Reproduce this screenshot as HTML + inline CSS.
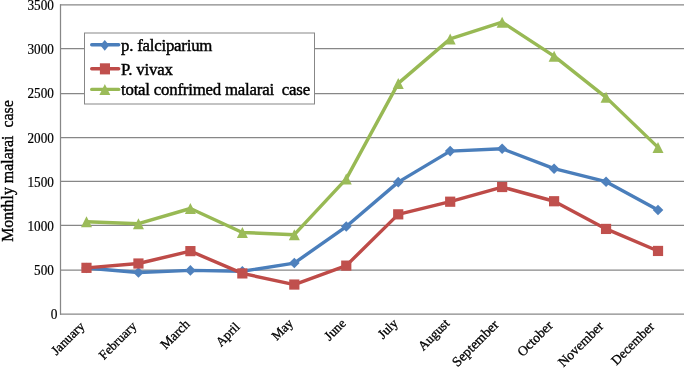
<!DOCTYPE html>
<html lang="en"><head><meta charset="utf-8"><title>Monthly malaria cases</title>
<style>html,body{margin:0;padding:0;background:#fff;}svg{display:block;}svg{will-change:transform;}text{font-family:"Liberation Serif","Times New Roman",serif;fill:#000;stroke:#000;stroke-width:0.25px;}.yl text{stroke-width:0.2px;}.ttl{stroke-width:0.4px;}.lg{stroke-width:0.45px;}.xl text{stroke-width:0.3px;}</style>
</head><body>
<svg width="685" height="368" viewBox="0 0 685 368">
<rect width="685" height="368" fill="#fff"/>
<g stroke="#878787" stroke-width="1.25" fill="none">
<line x1="60.0" y1="314.10" x2="684.0" y2="314.10"/>
<line x1="60.0" y1="270.20" x2="684.0" y2="270.20"/>
<line x1="60.0" y1="225.40" x2="684.0" y2="225.40"/>
<line x1="60.0" y1="181.40" x2="684.0" y2="181.40"/>
<line x1="60.0" y1="137.50" x2="684.0" y2="137.50"/>
<line x1="60.0" y1="93.60" x2="684.0" y2="93.60"/>
<line x1="60.0" y1="48.60" x2="684.0" y2="48.60"/>
<line x1="60.0" y1="4.75" x2="684.0" y2="4.75"/>
<line x1="60.5" y1="4.15" x2="60.5" y2="314.70"/>
</g>
<g class="yl" font-size="14.3" text-anchor="end">
<text x="57.5" y="319.00" textLength="6.7" lengthAdjust="spacingAndGlyphs">0</text>
<text x="53.9" y="275.29" textLength="19.80" lengthAdjust="spacingAndGlyphs">500</text>
<text x="53.9" y="231.07" textLength="26.40" lengthAdjust="spacingAndGlyphs">1000</text>
<text x="53.9" y="186.86" textLength="26.40" lengthAdjust="spacingAndGlyphs">1500</text>
<text x="53.9" y="142.64" textLength="26.40" lengthAdjust="spacingAndGlyphs">2000</text>
<text x="53.9" y="98.43" textLength="26.40" lengthAdjust="spacingAndGlyphs">2500</text>
<text x="53.9" y="54.21" textLength="26.40" lengthAdjust="spacingAndGlyphs">3000</text>
<text x="53.9" y="10.00" textLength="26.40" lengthAdjust="spacingAndGlyphs">3500</text>
</g>
<text class="ttl" font-size="17" textLength="141.5" lengthAdjust="spacingAndGlyphs" transform="translate(13.3,241.8) rotate(-90)" xml:space="preserve">Monthly malarai  case</text>
<g class="xl" font-size="13.1" text-anchor="end">
<text font-size="13.1" transform="translate(85.28,327.00) rotate(-45)">January</text>
<text font-size="13.0" transform="translate(137.24,327.00) rotate(-45)">February</text>
<text font-size="13.5" transform="translate(190.60,324.90) rotate(-45)">March</text>
<text font-size="13.1" transform="translate(240.45,327.60) rotate(-45)">April</text>
<text font-size="13.1" transform="translate(293.81,324.00) rotate(-45)">May</text>
<text font-size="13.1" transform="translate(346.57,324.20) rotate(-45)">June</text>
<text font-size="13.1" transform="translate(398.53,324.00) rotate(-45)">July</text>
<text font-size="13.2" transform="translate(450.29,324.20) rotate(-45)">August</text>
<text font-size="13.9" transform="translate(499.45,325.50) rotate(-45)">September</text>
<text font-size="13.6" transform="translate(553.60,326.30) rotate(-45)">October</text>
<text font-size="13.6" transform="translate(604.16,327.00) rotate(-45)">November</text>
<text font-size="13.25" transform="translate(655.02,327.30) rotate(-45)">December</text>
</g>
<polyline points="86.48,268.02 138.44,272.44 190.40,270.40 242.35,271.29 294.31,263.07 346.27,226.54 398.23,182.15 450.19,151.11 502.15,148.73 554.10,168.71 606.06,181.71 658.02,210.01" fill="none" stroke="#4a7ebb" stroke-width="3.4" stroke-linejoin="round" stroke-linecap="round"/>
<polygon points="86.48,262.72 91.78,268.02 86.48,273.32 81.18,268.02" fill="#4f81bd"/>
<polygon points="138.44,267.14 143.74,272.44 138.44,277.74 133.14,272.44" fill="#4f81bd"/>
<polygon points="190.40,265.10 195.70,270.40 190.40,275.70 185.10,270.40" fill="#4f81bd"/>
<polygon points="242.35,265.99 247.65,271.29 242.35,276.59 237.05,271.29" fill="#4f81bd"/>
<polygon points="294.31,257.77 299.61,263.07 294.31,268.37 289.01,263.07" fill="#4f81bd"/>
<polygon points="346.27,221.24 351.57,226.54 346.27,231.84 340.97,226.54" fill="#4f81bd"/>
<polygon points="398.23,176.85 403.53,182.15 398.23,187.45 392.93,182.15" fill="#4f81bd"/>
<polygon points="450.19,145.81 455.49,151.11 450.19,156.41 444.89,151.11" fill="#4f81bd"/>
<polygon points="502.15,143.43 507.45,148.73 502.15,154.03 496.85,148.73" fill="#4f81bd"/>
<polygon points="554.10,163.41 559.40,168.71 554.10,174.01 548.80,168.71" fill="#4f81bd"/>
<polygon points="606.06,176.41 611.36,181.71 606.06,187.01 600.76,181.71" fill="#4f81bd"/>
<polygon points="658.02,204.71 663.32,210.01 658.02,215.31 652.72,210.01" fill="#4f81bd"/>
<polyline points="86.48,267.84 138.44,263.51 190.40,251.13 242.35,273.41 294.31,284.55 346.27,265.63 398.23,214.34 450.19,201.70 502.15,187.02 554.10,201.25 606.06,228.93 658.02,250.95" fill="none" stroke="#be4b48" stroke-width="3.4" stroke-linejoin="round" stroke-linecap="round"/>
<rect x="81.38" y="262.74" width="10.2" height="10.2" fill="#c0504d"/>
<rect x="133.34" y="258.41" width="10.2" height="10.2" fill="#c0504d"/>
<rect x="185.30" y="246.03" width="10.2" height="10.2" fill="#c0504d"/>
<rect x="237.25" y="268.31" width="10.2" height="10.2" fill="#c0504d"/>
<rect x="289.21" y="279.45" width="10.2" height="10.2" fill="#c0504d"/>
<rect x="341.17" y="260.53" width="10.2" height="10.2" fill="#c0504d"/>
<rect x="393.13" y="209.24" width="10.2" height="10.2" fill="#c0504d"/>
<rect x="445.09" y="196.60" width="10.2" height="10.2" fill="#c0504d"/>
<rect x="497.05" y="181.92" width="10.2" height="10.2" fill="#c0504d"/>
<rect x="549.00" y="196.15" width="10.2" height="10.2" fill="#c0504d"/>
<rect x="600.96" y="223.83" width="10.2" height="10.2" fill="#c0504d"/>
<rect x="652.92" y="245.85" width="10.2" height="10.2" fill="#c0504d"/>
<polyline points="86.48,221.77 138.44,223.71 190.40,208.50 242.35,232.47 294.31,234.68 346.27,178.88 398.23,83.38 450.19,38.90 502.15,22.19 554.10,56.14 606.06,97.35 658.02,147.40" fill="none" stroke="#98b954" stroke-width="3.4" stroke-linejoin="round" stroke-linecap="round"/>
<polygon points="86.48,216.27 91.98,227.27 80.98,227.27" fill="#9bbb59"/>
<polygon points="138.44,218.21 143.94,229.21 132.94,229.21" fill="#9bbb59"/>
<polygon points="190.40,203.00 195.90,214.00 184.90,214.00" fill="#9bbb59"/>
<polygon points="242.35,226.97 247.85,237.97 236.85,237.97" fill="#9bbb59"/>
<polygon points="294.31,229.18 299.81,240.18 288.81,240.18" fill="#9bbb59"/>
<polygon points="346.27,173.38 351.77,184.38 340.77,184.38" fill="#9bbb59"/>
<polygon points="398.23,77.88 403.73,88.88 392.73,88.88" fill="#9bbb59"/>
<polygon points="450.19,33.40 455.69,44.40 444.69,44.40" fill="#9bbb59"/>
<polygon points="502.15,16.69 507.65,27.69 496.65,27.69" fill="#9bbb59"/>
<polygon points="554.10,50.64 559.60,61.64 548.60,61.64" fill="#9bbb59"/>
<polygon points="606.06,91.85 611.56,102.85 600.56,102.85" fill="#9bbb59"/>
<polygon points="658.02,141.90 663.52,152.90 652.52,152.90" fill="#9bbb59"/>
<rect x="84.5" y="33" width="230" height="71" fill="#fff" stroke="#878787" stroke-width="1"/>
<line x1="91.7" y1="44.8" x2="118.7" y2="44.8" stroke="#4a7ebb" stroke-width="3.4" stroke-linecap="round"/>
<polygon points="104.75,40.05 109.2,45.35 104.75,50.65 100.3,45.35" fill="#4f81bd"/>
<text x="121" y="50.7" class="lg" font-size="16.8" textLength="91.4" lengthAdjust="spacing" xml:space="preserve">p. falciparium</text>
<line x1="91.7" y1="68.7" x2="118.7" y2="68.7" stroke="#be4b48" stroke-width="3.4" stroke-linecap="round"/>
<rect x="99.9" y="63.3" width="10.1" height="11.1" fill="#c0504d"/>
<text x="121" y="74.6" class="lg" font-size="16.8" textLength="51.8" lengthAdjust="spacing" xml:space="preserve">P. vivax</text>
<line x1="91.7" y1="89.4" x2="118.7" y2="89.4" stroke="#98b954" stroke-width="3.4" stroke-linecap="round"/>
<polygon points="104.85,83.9 110.3,95.05 99.4,95.05" fill="#9bbb59"/>
<text x="121" y="95.0" class="lg" font-size="16.8" textLength="189.1" lengthAdjust="spacing" xml:space="preserve">total confrimed malarai  case</text>
</svg>
</body></html>
